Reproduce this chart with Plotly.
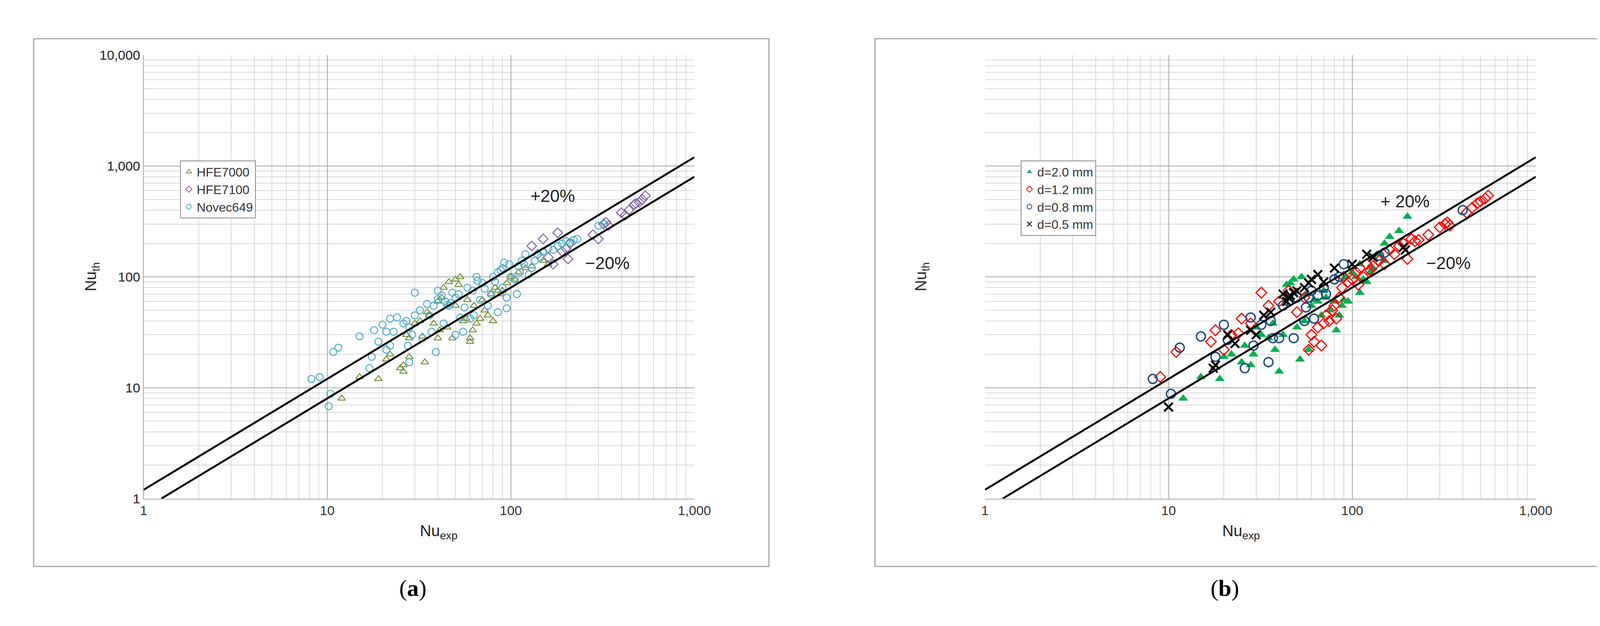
import plotly.graph_objects as go

# ---------- data (a) ----------
hfe7000 = [(12,8),(15,12.5),(19,12),(21,18),(22,20),(25,15),(26,14),(26,16),(27,30),(28,19),(28,28),(30,38),(32,40),(33,29),(34,17),(35,48),(36,45),(38,38),(40,60),(40,28),(41,33),(42,65),(43,80),(45,35),(46,90),(48,28),(50,55),(50,95),(52,85),(53,100),(55,40),(57,42),(58,62),(60,28),(60,26),(62,33),(63,55),(65,38),(68,42),(70,62),(72,50),(75,45),(78,70),(80,40),(82,80),(85,75),(88,70),(90,75),(95,88),(100,100),(105,95),(110,110),(120,120),(130,125),(150,140),(160,130)]
hfe7100 = [(130,190),(140,160),(150,220),(160,150),(170,130),(180,250),(190,170),(200,180),(205,145),(210,200),(280,240),(300,220),(320,300),(330,310),(340,290),(400,380),(420,360),(440,400),(470,450),(480,460),(500,470),(520,500),(540,540)]
novec649 = [(8.2,12),(9.1,12.5),(10.2,6.8),(10.4,8.8),(10.8,21),(11.5,23),(15,29),(17,15),(17.5,19),(18,33),(19,26),(20,37),(21,22),(21,32),(22,24),(22,42),(23,32),(24,43),(26,38),(27,40),(27.5,24),(28,17),(28,35),(29,30),(30,45),(30,72),(32,50),(33,28),(35,57),(36,45),(37,32),(38,55),(39,21),(40,63),(40,75),(42,68),(43,38),(44,60),(45,56),(46,55),(47,58),(48,72),(50,65),(50,30),(52,70),(53,43),(55,32),(56,53),(58,80),(60,42),(62,75),(63,45),(65,100),(66,92),(68,62),(70,88),(72,78),(75,55),(78,70),(80,100),(82,90),(85,110),(85,48),(88,115),(90,120),(90,80),(92,135),(95,52),(95,65),(98,130),(100,100),(105,95),(108,70),(110,125),(112,110),(115,140),(118,130),(120,160),(125,105),(130,120),(135,140),(140,160),(145,150),(150,170),(160,180),(170,175),(180,190),(190,200),(200,210),(210,205),(220,215),(230,220),(300,290),(320,300)]

# ---------- data (b) ----------
d20 = [(12,8),(15,12.5),(19,12),(20,19),(22,20),(25,17),(26,24),(28,16),(29,20),(30,35),(32,30),(35,28),(37,38),(38,22),(40,14),(42,30),(44,85),(46,88),(48,95),(50,35),(52,18),(53,100),(55,40),(56,70),(58,22),(60,55),(62,62),(65,60),(68,45),(70,75),(72,65),(75,50),(80,60),(82,33),(85,45),(88,55),(90,62),(92,100),(95,60),(100,110),(105,100),(110,72),(115,95),(120,90),(125,110),(130,150),(140,160),(150,200),(160,230),(180,260),(200,350),(110,130),(130,120),(150,140)]
d12 = [(9,12.5),(11,21),(17,26),(18,33),(20,22),(22,30),(24,31),(25,42),(28,38),(32,72),(35,55),(40,60),(45,75),(50,48),(55,65),(58,22),(60,30),(62,26),(65,35),(68,24),(70,38),(72,45),(75,40),(78,50),(80,55),(82,42),(85,65),(88,80),(90,100),(95,90),(100,95),(105,110),(108,85),(110,120),(115,100),(120,130),(125,115),(130,125),(140,140),(150,130),(160,175),(170,160),(180,190),(190,200),(200,145),(210,220),(220,210),(230,215),(260,240),(300,280),(320,300),(330,310),(340,290),(420,380),(450,420),(480,460),(500,480),(530,510),(550,540)]
d08 = [(8.2,12),(10.3,8.8),(11.5,23),(15,29),(18,19),(20,37),(21,27),(26,15),(28,43),(29,24),(32,37),(35,17),(36,40),(37,28),(40,28),(42,55),(45,60),(48,28),(50,65),(55,40),(56,53),(58,65),(60,75),(62,42),(65,68),(70,80),(72,70),(80,95),(85,100),(90,130),(150,165),(140,155),(400,400)]
d05 = [(10,6.7),(17.5,15),(18,16),(21,30),(23,25),(28,33),(30,30),(33,45),(36,48),(42,70),(44,60),(45,65),(46,68),(48,72),(50,75),(55,80),(58,88),(60,95),(65,105),(70,90),(80,120),(100,130),(120,160),(130,150),(190,185),(195,175)]

upper_x = [1, 1000]; upper_y = [1.2, 1200]
lower_x = [1.25, 1000]; lower_y = [1, 800]
tickvals = [1, 10, 100, 1000, 10000]
ticktext = ["1", "10", "100", "1,000", "10,000"]

fig = go.Figure()

def add(series, name, ax, legend, marker):
    xs = [p[0] for p in series]; ys = [p[1] for p in series]
    fig.add_trace(go.Scatter(x=xs, y=ys, mode="markers", name=name, marker=marker,
                             xaxis=ax[0], yaxis=ax[1], legend=legend))

add(hfe7000, "HFE7000", ("x", "y"), "legend", dict(symbol="triangle-up-open", size=17, color="#77933C", line=dict(width=2.5)))
add(hfe7100, "HFE7100", ("x", "y"), "legend", dict(symbol="diamond-open", size=19, color="#8064A2", line=dict(width=2.5)))
add(novec649, "Novec649", ("x", "y"), "legend", dict(symbol="circle-open", size=18, color="#4BACC6", line=dict(width=2.5)))

add(d20, "d=2.0 mm", ("x2", "y2"), "legend2", dict(symbol="triangle-up", size=22, color="#00B050"))
add(d12, "d=1.2 mm", ("x2", "y2"), "legend2", dict(symbol="diamond-open", size=21, color="#FF0000", line=dict(width=3)))
add(d08, "d=0.8 mm", ("x2", "y2"), "legend2", dict(symbol="circle-open", size=23, color="#1F497D", line=dict(width=3.5)))
add(d05, "d=0.5 mm", ("x2", "y2"), "legend2", dict(symbol="x-thin-open", size=22, color="#000000", line=dict(width=5)))

for ax in (("x", "y"), ("x2", "y2")):
    for lx, ly in ((upper_x, upper_y), (lower_x, lower_y)):
        fig.add_trace(go.Scatter(x=lx, y=ly, mode="lines", line=dict(color="black", width=5),
                                 showlegend=False, xaxis=ax[0], yaxis=ax[1], hoverinfo="skip"))

axcommon = dict(type="log", tickvals=tickvals, ticktext=ticktext, showgrid=True,
                gridcolor="#A6A6A6", gridwidth=2, zeroline=False, showline=True,
                linecolor="#A6A6A6", linewidth=2, ticks="", ticklen=0,
                minor=dict(showgrid=True, gridcolor="#D9D9D9", gridwidth=2, dtick="D1", ticks=""),
                tickfont=dict(family="Liberation Sans Narrow, Liberation Sans", size=34, color="#333"))
yd = [0.2015, 0.927]
legfont = dict(family="Liberation Sans Narrow, Liberation Sans", size=32, color="#333")
fig.update_layout(
    width=4187, height=1603, margin=dict(l=0, r=0, t=0, b=0),
    paper_bgcolor="white", plot_bgcolor="white",
    xaxis=dict(axcommon, domain=[0.0848, 0.4258], range=[0, 3]),
    yaxis=dict(axcommon, domain=yd, range=[0, 4]),
    xaxis2=dict(axcommon, domain=[0.6057, 0.9467], range=[0, 3]),
    yaxis2=dict(axcommon, domain=yd, range=[0, 4]),
    legend=dict(x=450/4187, y=1-393/1603, xanchor="left", yanchor="top", bgcolor="white",
                bordercolor="#888", borderwidth=2, font=legfont, tracegroupgap=28, itemsizing="constant"),
    legend2=dict(x=2629/4187, y=1-393/1603, xanchor="left", yanchor="top", bgcolor="white",
                 bordercolor="#888", borderwidth=2, font=legfont, tracegroupgap=24, itemsizing="constant"),
)

# frames
for x0, x1 in ((70, 1976), (2251, 4155)):
    fig.add_shape(type="rect", xref="paper", yref="paper", x0=x0/4187, x1=x1/4187,
                  y0=1-1458/1603, y1=1-74/1603, line=dict(color="#A6A6A6", width=3))

txtfont = dict(family="Liberation Sans Narrow, Liberation Sans", size=44, color="#222")
anns = [
    dict(x=2.229, y=2.731, xref="x", yref="y", text="+20%"),
    dict(x=2.527, y=2.126, xref="x", yref="y", text="\u221220%"),
    dict(x=2.288, y=2.68, xref="x2", yref="y2", text="+ 20%"),
    dict(x=2.525, y=2.126, xref="x2", yref="y2", text="\u221220%"),
]
for a in anns:
    fig.add_annotation(showarrow=False, font=txtfont, **a)
for cx, yx in ((1069, 194), (3250, 2373)):
    fig.add_annotation(x=cx/4187, y=1-1395/1603, xref="paper", yref="paper", showarrow=False,
                       text="Nu<sub>exp</sub>", font=dict(family="Liberation Sans", size=40, color="#222"))
    fig.add_annotation(x=yx/4187, y=1-698/1603, xref="paper", yref="paper", showarrow=False, textangle=-90,
                       text="Nu<sub>th</sub>", font=dict(family="Liberation Sans", size=40, color="#222"))
for cx, lab in ((1016, "a"), (3197, "b")):
    fig.add_annotation(x=cx/4187, y=1-1551/1603, xref="paper", yref="paper", showarrow=False,
                       text="(<b>%s</b>)" % lab, font=dict(family="Liberation Serif", size=60, color="black"))

fig.write_html("out.html")
